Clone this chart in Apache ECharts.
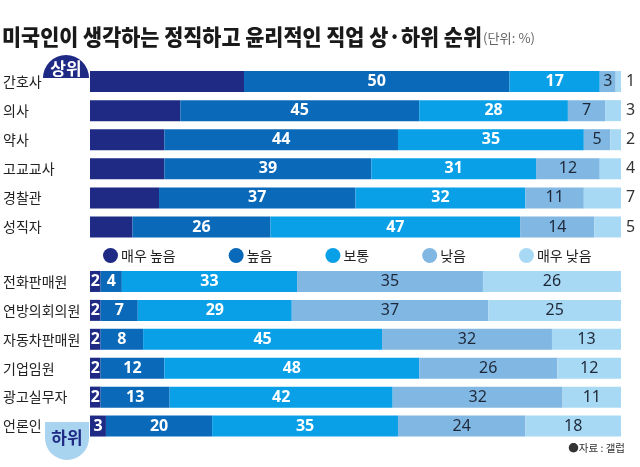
<!DOCTYPE html>
<html><head><meta charset="utf-8">
<script src="https://cdn.jsdelivr.net/npm/echarts@6/dist/echarts.min.js"></script>
<style>html,body{margin:0;padding:0;background:#fff}#c{width:640px;height:467px}</style>
</head><body><div id="c"></div>
<script>
const titleText = '미국인이 생각하는 정직하고 윤리적인 직업 상·하위 순위';
const unitText = '(단위: %)';
const sourceText = '●자료 : 갤럽';
const seriesNames = ['매우 높음', '높음', '보통', '낮음', '매우 낮음'];
const categoriesTop = ['간호사', '의사', '약사', '고교교사', '경찰관', '성직자'];
const categoriesBottom = ['전화판매원', '연방의회의원', '자동차판매원', '기업임원', '광고실무자', '언론인'];
const topVeryHigh = [29, 17, 14, 14, 13, 8];
const topHigh = [50, 45, 44, 39, 37, 26];
const topNormal = [17, 28, 35, 31, 32, 47];
const topLow = [3, 7, 5, 12, 11, 14];
const topVeryLow = [1, 3, 2, 4, 7, 5];
const bottomVeryHigh = [2, 2, 2, 2, 2, 3];
const bottomHigh = [4, 7, 8, 12, 13, 20];
const bottomNormal = [33, 29, 45, 48, 42, 35];
const bottomLow = [35, 37, 32, 26, 32, 24];
const bottomVeryLow = [26, 25, 13, 12, 11, 18];

const colors = ['#1f2a85', '#0a69b8', '#0aa0e8', '#80b7e3', '#a8d9f4'];
const KR = '"Noto Sans CJK KR", sans-serif';
const NUM = '"Noto Sans", "Noto Sans CJK KR", sans-serif';

function measure(text, font) {
  const ctx = document.createElement('canvas').getContext('2d');
  ctx.font = font;
  return ctx.measureText(text).width;
}
const titleFont = '900 22px ' + KR;
const titleScale = 480 / measure(titleText, titleFont);
const unitFont = '13px ' + KR;
const unitScale = 52 / measure(unitText, unitFont);

const whiteLbl = {show: true, position: 'inside', color: '#fff', fontSize: 16, fontWeight: 'bold', fontFamily: NUM};
const darkLbl = {show: true, position: 'inside', color: '#1e2838', fontSize: 16, fontFamily: NUM};

const topData = [topVeryHigh, topHigh, topNormal, topLow, topVeryLow];
const bottomData = [bottomVeryHigh, bottomHigh, bottomNormal, bottomLow, bottomVeryLow];
const topLabels = [
  {show: false}, whiteLbl, whiteLbl, darkLbl,
  {show: true, position: 'right', distance: 5, color: '#333', fontSize: 16, fontFamily: NUM}
];
const bottomLabels = [whiteLbl, whiteLbl, whiteLbl, darkLbl, darkLbl];

const series = [];
seriesNames.forEach((n, i) => {
  series.push({name: n, type: 'bar', stack: 'top', xAxisIndex: 0, yAxisIndex: 0, barWidth: 21,
    itemStyle: {color: colors[i]}, label: topLabels[i], data: topData[i], animation: false});
});
seriesNames.forEach((n, i) => {
  series.push({name: n, type: 'bar', stack: 'bottom', xAxisIndex: 1, yAxisIndex: 1, barWidth: 21,
    itemStyle: {color: colors[i]}, label: bottomLabels[i], data: bottomData[i], animation: false});
});

const yAxisCommon = {
  type: 'category', inverse: true,
  axisLine: {show: false}, axisTick: {show: false},
  axisLabel: {align: 'left', margin: 87, fontSize: 14, color: '#222', fontFamily: KR}
};

const chart = echarts.init(document.getElementById('c'));
chart.setOption({
  animation: false,
  color: colors,
  grid: [
    {left: 89, right: 19, top: 67, height: 174.5},
    {left: 89, right: 19, top: 267, height: 173.5}
  ],
  xAxis: [
    {type: 'value', gridIndex: 0, min: 0, max: 100, show: false},
    {type: 'value', gridIndex: 1, min: 0, max: 100, show: false}
  ],
  yAxis: [
    Object.assign({gridIndex: 0, data: categoriesTop}, yAxisCommon),
    Object.assign({gridIndex: 1, data: categoriesBottom}, yAxisCommon)
  ],
  legend: {
    data: seriesNames, left: 103, top: 248, padding: 0,
    icon: 'circle', itemWidth: 15, itemHeight: 15, itemGap: 53,
    textStyle: {fontSize: 14, color: '#222', fontFamily: KR, padding: [0, 0, 0, -2]}
  },
  graphic: [
    {type: 'text', x: 2, y: 36.5, scaleX: titleScale,
      style: {text: titleText, font: titleFont, fill: '#1a1a1a', align: 'left', verticalAlign: 'middle'}},
    {type: 'text', x: 483, y: 38, scaleX: unitScale,
      style: {text: unitText, font: unitFont, fill: '#666', align: 'left', verticalAlign: 'middle'}},
    {type: 'sector', shape: {cx: 66, cy: 78, r: 23, startAngle: Math.PI, endAngle: 2 * Math.PI},
      style: {fill: '#1f2a85'}},
    {type: 'text', x: 66, y: 69,
      style: {text: '상위', font: 'bold 17px ' + KR, fill: '#fff', align: 'center', verticalAlign: 'middle'}},
    {type: 'rect', shape: {x: 45, y: 422, width: 44, height: 16}, style: {fill: '#a8d4f0'}},
    {type: 'sector', shape: {cx: 67, cy: 438, r: 22, startAngle: 0, endAngle: Math.PI},
      style: {fill: '#a8d4f0'}},
    {type: 'text', x: 67, y: 438,
      style: {text: '하위', font: 'bold 17px ' + KR, fill: '#1f2a85', align: 'center', verticalAlign: 'middle'}},
    {type: 'text', x: 625, y: 448,
      style: {text: sourceText, font: '10.5px ' + KR, fill: '#333', align: 'right', verticalAlign: 'middle'}}
  ],
  series: series
});
</script></body></html>
